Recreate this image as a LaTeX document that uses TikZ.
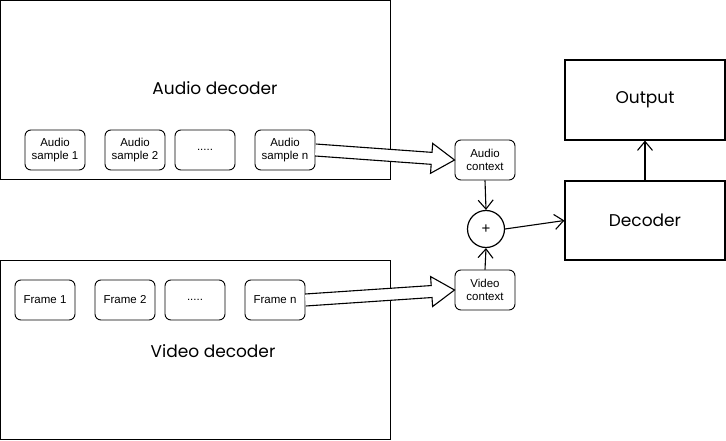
\documentclass[tikz,border=0pt]{standalone}
\usepackage{fontspec}
\setmainfont{Liberation Sans}
\newfontfamily\sketchfont{Poppins}
\usetikzlibrary{arrows.meta,calc}
\newcommand\flexarr[2]{%
  \coordinate (fh) at ($(#2)!23pt!(#1)$);
  \draw[line width=1.1pt, fill=white, line join=miter]
    ($(#1)!6pt!90:(#2)$) -- ($(fh)!6pt!90:(#2)$) -- ($(fh)!15pt!90:(#2)$) -- (#2)
    -- ($(fh)!15pt!-90:(#2)$) -- ($(fh)!6pt!-90:(#2)$) -- ($(#1)!6pt!-90:(#2)$);
}
\begin{document}
\begin{tikzpicture}[x=1pt,y=-1pt,
  bigbox/.style={draw, line width=1.15pt, rectangle, inner sep=0pt},
  smallbox/.style={draw, line width=0.9pt, rounded corners=6pt, minimum width=60pt, minimum height=40pt, inner sep=0pt, align=center, font=\fontsize{11.5}{13.5}\selectfont},
  sketchtext/.style={font=\sketchfont\fontsize{17}{19}\selectfont},
  thinarr/.style={line width=1.1pt, -{Straight Barb[length=9pt,width=15pt,line width=1.1pt]}}
]
\useasboundingbox (0,0) rectangle (726,441);
% big containers
\node[bigbox, minimum width=390pt, minimum height=179pt] (adec) at (195.6,90) {};
\node[bigbox, minimum width=390pt, minimum height=179pt] (vdec) at (195.6,350) {};
\node[sketchtext] (adect) at (215,88) {Audio decoder};
\node[sketchtext] (vdect) at (213,351) {Video decoder};
% audio samples
\node[smallbox] (as1) at (55,150) {Audio\\sample 1};
\node[smallbox] (as2) at (135,150) {Audio\\sample 2};
\node[smallbox] (asd) at (205,150) {.....};
\node[smallbox] (asn) at (285,150) {Audio\\sample n};
% frames
\node[smallbox] (f1) at (45,300) {Frame 1};
\node[smallbox] (f2) at (125,300) {Frame 2};
\node[smallbox] (fd) at (195,300) {.....};
\node[smallbox] (fn) at (275,300) {Frame n};
% contexts
\node[smallbox] (actx) at (485,160) {Audio\\context};
\node[smallbox] (vctx) at (485,290) {Video\\context};
% sum
\node[draw, circle, line width=1.2pt, minimum size=37pt, inner sep=0pt, font=\fontsize{15}{17}\selectfont] (sum) at (486,229) {+};
% decoder and output
\node[bigbox, minimum width=160pt, minimum height=79pt] (dec) at (645,220.5) {};
\node[sketchtext] (dect) at (dec.center) {Decoder};
\node[bigbox, minimum width=160pt, minimum height=80pt] (out) at (645,100) {};
\node[sketchtext] (outt) at (out.center) {Output};
% flex arrows
\flexarr{asn.east}{actx.west}
\flexarr{fn.east}{vctx.west}
% thin arrows
\draw[thinarr] (actx.south) -- (sum.north);
\draw[thinarr] (vctx.north) -- (sum.south);
\draw[thinarr] (sum.east) -- (dec.west);
\draw[thinarr] (dec.north) -- (out.south);
\end{tikzpicture}
\end{document}
